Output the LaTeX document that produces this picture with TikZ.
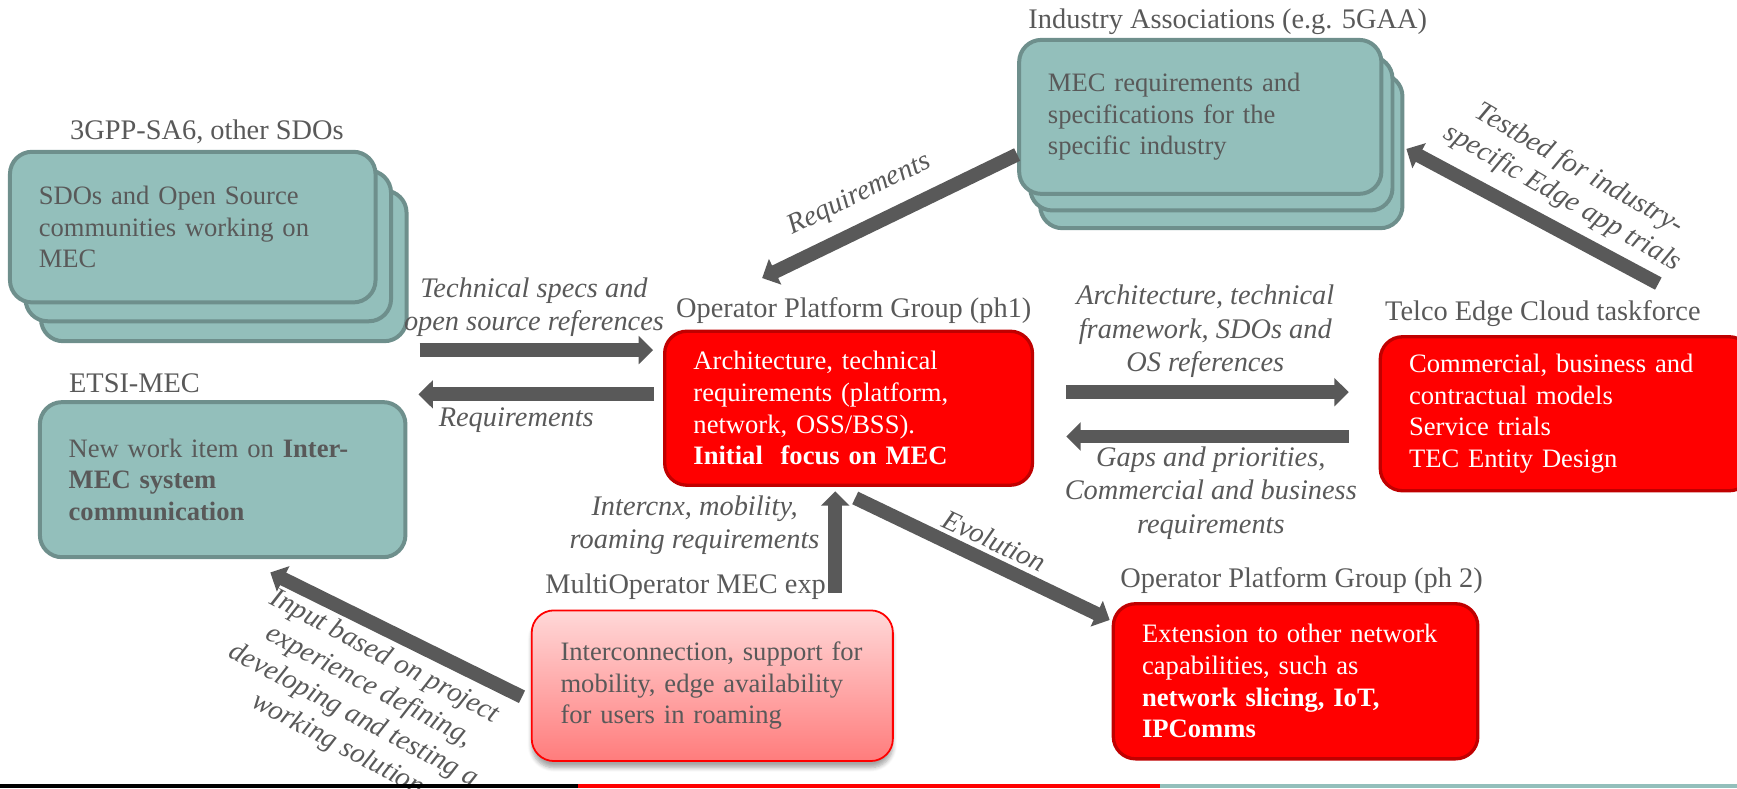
\documentclass[tikz,border=0pt]{standalone}
\usepackage{fontspec}
\setmainfont{Liberation Serif}
\usetikzlibrary{arrows.meta,shadows.blur}

\definecolor{tealfill}{RGB}{147,191,187}
\definecolor{tealedge}{RGB}{110,143,140}
\definecolor{txtgray}{RGB}{89,89,89}
\definecolor{arrgray}{RGB}{89,89,89}
\definecolor{darkred}{RGB}{192,0,0}
\definecolor{pinktop}{RGB}{255,216,216}
\definecolor{pinkbot}{RGB}{255,124,124}

\tikzset{
  tealbox/.style={draw=tealedge, fill=tealfill, line width=1.8pt, rounded corners=10pt,
    text=txtgray, font=\fontsize{12}{14.3}\selectfont, align=left, inner xsep=13pt},
  redbox/.style={draw=darkred, fill=red, line width=1.5pt, rounded corners=10pt,
    text=white, font=\fontsize{12}{14.3}\selectfont, align=left, inner xsep=13pt},
  pinkbox/.style={draw=red, line width=0.8pt, rounded corners=10pt, top color=pinktop, bottom color=pinkbot,
    blur shadow={shadow xshift=0pt, shadow yshift=-3pt, shadow blur steps=6, shadow opacity=35},
    text=txtgray, font=\fontsize{12}{14.3}\selectfont, align=left, inner xsep=13pt},
  title/.style={text=txtgray, font=\fontsize{12.8}{15}\selectfont, anchor=west, inner sep=0pt},
  arrlabel/.style={text=txtgray, font=\fontsize{12.8}{15}\selectfont\itshape, align=center, inner sep=0pt},
  bigarrow/.style={draw=arrgray, line width=6.25pt, -{Triangle[width=12.5pt,length=6.5pt]}},
}

\begin{document}
\begin{tikzpicture}[x=0.5pt,y=-0.5pt]
% everything is laid out in pixels of the slide, y runs downwards
\useasboundingbox (0,0) rectangle (1568,712);

% The SDO stack, back boxes first
\node[tealbox, text width=139pt, minimum height=68pt] (sdo3) at (202,240) {};
\node[tealbox, text width=139pt, minimum height=68pt] (sdo2) at (188,222) {};
\node[tealbox, text width=139pt, minimum height=68pt] (sdo) at (174,205) {SDOs and Open Source\\communities working on\\MEC};
\node[title] (sdoT) at (63,119) {3GPP-SA6, other SDOs};

% The industry stack
\node[tealbox, text width=137.5pt, minimum height=69.5pt] (ind3) at (1102.5,136.5) {};
\node[tealbox, text width=137.5pt, minimum height=69.5pt] (ind2) at (1093.5,120.5) {};
\node[tealbox, text width=137.5pt, minimum height=69.5pt] (ind) at (1083.5,105.5) {MEC requirements and\\specifications for the\\specific industry};
\node[title] (indT) at (928,20) {Industry Associations (e.g. 5GAA)};

% ETSI
\node[tealbox, text width=139pt, minimum height=70pt] (etsi) at (201,433) {New work item on \textbf{Inter-}\\\textbf{MEC system}\\\textbf{communication}};
\node[title] (etsiT) at (62,346) {ETSI-MEC};

% Operator platform, phase 1
\node[redbox, text width=140pt, minimum height=69.5pt] (opg1) at (766,368.5) {Architecture, technical\\requirements (platform,\\network, OSS/BSS).\\\textbf{Initial\ \ focus on MEC}};
\node[title] (opg1T) at (610,280) {Operator Platform Group (ph1)};

% Telco edge cloud
\node[redbox, text width=141.5pt, minimum height=69.5pt] (tec) at (1413.5,373.5) {Commercial, business and\\contractual models\\Service trials\\TEC Entity Design};
\node[title] (tecT) at (1250,283) {Telco Edge Cloud taskforce};

% Multi operator experiment
\node[pinkbox, text width=137pt, minimum height=68pt] (mop) at (643,619) {Interconnection, support for\\mobility, edge availability\\for users in roaming};
\node[title] (mopT) at (492,530) {MultiOperator MEC exp};

% Operator platform, phase 2
\node[redbox, text width=138.5pt, minimum height=70pt] (opg2) at (1169.5,615) {Extension to other network\\capabilities, such as\\\textbf{network slicing, IoT,}\\\textbf{IPComms}};
\node[title] (opg2T) at (1011,524) {Operator Platform Group (ph 2)};

% levels of the horizontal arrows
\coordinate (lvlA) at (0,316);
\coordinate (lvlB) at (0,356);
\coordinate (lvlC) at (0,354);
\coordinate (lvlD) at (0,394);
\coordinate (upX) at (754,0);
\coordinate (reqTip) at (688,251);
\coordinate (tbTail) at (1497,256);

% The arrows
\draw[bigarrow, shorten <=5pt, shorten >=4.5pt] (sdo3.east |- lvlA) -- (opg1.west |- lvlA);
\draw[bigarrow, shorten <=4pt, shorten >=5pt] (opg1.west |- lvlB) -- (etsi.east |- lvlB);
\draw[bigarrow, shorten <=14.5pt, shorten >=13.5pt] (opg1.east |- lvlC) -- (tec.west |- lvlC);
\draw[bigarrow, shorten <=13.5pt, shorten >=14.5pt] (tec.west |- lvlD) -- (opg1.east |- lvlD);
\draw[bigarrow] ([yshift=-17pt]ind.west) -- (reqTip);
\draw[bigarrow, shorten >=1pt] (tbTail) -- ([yshift=1.5pt]ind3.east);
\draw[bigarrow, shorten <=7.5pt, shorten >=2pt] (upX |- mop.north) -- (upX |- opg1.south);
\draw[bigarrow, shorten >=1pt] ([xshift=3pt,yshift=-5pt]opg1.south) -- ([yshift=-8.5pt]opg2.north west);
\draw[bigarrow] ([xshift=-4pt,yshift=-5pt]mop.west) -- ([xshift=21.5pt,yshift=-6pt]etsi.south);

% Arrow labels
\node[arrlabel] (specsL) at (482,277) {Technical specs and\\open source references};
\node[arrlabel] (reqL) at (466,379) {Requirements};
\node[arrlabel] (archL) at (1088,299) {Architecture, technical\\framework, SDOs and\\OS references};
\node[arrlabel] (gapsL) at (1093,445) {Gaps and priorities,\\Commercial and business\\requirements};
\node[arrlabel] (icnxL) at (627,474) {Intercnx, mobility,\\roaming requirements};
\node[arrlabel, rotate=26] (reqDL) at (776,176) {Requirements};
\node[arrlabel, rotate=-30] (tbL) at (1418,166) {Testbed for industry-\\specific Edge app trials};
\node[arrlabel, rotate=-25] (evoL) at (898,488) {Evolution};
\node[arrlabel, rotate=-28] (inL) at (326,633) {Input based on project\\experience defining,\\developing and testing a\\working solution};

% The coloured rule along the bottom
\draw[line width=1.5pt, black] (0,709.5) -- (522,709.5);
\draw[line width=1.5pt, red] (522,709.5) -- (1047,709.5);
\draw[line width=1.5pt, tealfill] (1047,709.5) -- (1568,709.5);
\end{tikzpicture}
\end{document}
